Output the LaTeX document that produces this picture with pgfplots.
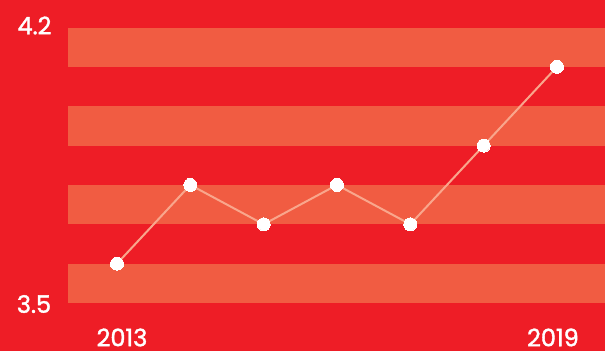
\documentclass[border=0pt]{standalone}
\usepackage{pgfplots}
\pgfplotsset{compat=1.18}
\usepackage{fontspec}
\setmainfont{Poppins}
\newfontfamily\labfont[FakeBold=1.6]{Poppins}
\definecolor{bgred}{HTML}{EE1D26}
\definecolor{band}{HTML}{F15C42}
\definecolor{linec}{HTML}{F9A68C}
\begin{document}
\begin{tikzpicture}
\begin{axis}[
  width=605pt, height=351pt, scale only axis,
  xmin=2011.4045, xmax=2019.655,
  ymin=3.3781, ymax=4.2699,
  axis line style={draw=none},
  xtick=\empty, ytick=\empty,
  axis background/.style={fill=bgred},
  clip=false,
]
% bands
\addplot[fill=band, draw=none] coordinates {(2012.332,3.5) (2019.655,3.5) (2019.655,3.6) (2012.332,3.6)} -- cycle;
\addplot[fill=band, draw=none] coordinates {(2012.332,3.7) (2019.655,3.7) (2019.655,3.8) (2012.332,3.8)} -- cycle;
\addplot[fill=band, draw=none] coordinates {(2012.332,3.9) (2019.655,3.9) (2019.655,4.0) (2012.332,4.0)} -- cycle;
\addplot[fill=band, draw=none] coordinates {(2012.332,4.1) (2019.655,4.1) (2019.655,4.2) (2012.332,4.2)} -- cycle;
% series
\addplot[color=linec, line width=2pt, mark=*, mark size=6.5pt, mark options={fill=white, draw=white, line width=0pt}]
coordinates {(2013,3.6) (2014,3.8) (2015,3.7) (2016,3.8) (2017,3.7) (2018,3.9) (2019,4.1)};
% labels
\tikzset{lab/.style={text=white, font=\labfont\fontsize{24}{24}\selectfont, anchor=center, inner sep=0pt}}
\node[lab] at (axis cs:2011.875,4.2051) {4.2};
\node[lab] at (axis cs:2011.868,3.4975) {3.5};
\node[lab] at (axis cs:2013.068,3.4125) {2013};
\node[lab] at (axis cs:2018.945,3.4125) {2019};
\end{axis}
\end{tikzpicture}
\end{document}
